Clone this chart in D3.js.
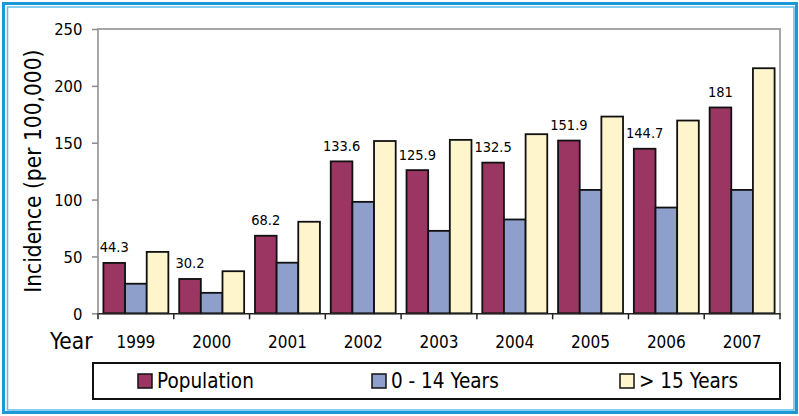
<!DOCTYPE html>
<html><head><meta charset="utf-8">
<script src="https://cdn.jsdelivr.net/npm/d3@7"></script>
<style>
body{margin:0;background:#fff;}
text{font-family:"DejaVu Sans Condensed","DejaVu Sans",sans-serif;font-stretch:condensed;fill:#000;}
</style></head><body>
<svg id="c" width="799" height="416"></svg>
<script>
const years = ["1999","2000","2001","2002","2003","2004","2005","2006","2007"];
const population = [44.3, 30.2, 68.2, 133.6, 125.9, 132.5, 151.9, 144.7, 181];
const age0to14 = [26, 18, 44.5, 98, 72.5, 82.5, 108.5, 93, 108.5];
const age15plus = [54, 37, 80.5, 151.5, 152.5, 157.5, 173, 169.5, 215.5];
const seriesNames = ["Population", "0 - 14 Years", "> 15 Years"];
const seriesColors = ["#9b3561", "#8f9fcc", "#fff5cc"];
const yTicks = [0, 50, 100, 150, 200, 250];

const svg = d3.select("#c");
// outer borders
svg.append("rect").attr("x",3.5).attr("y",3.5).attr("width",793).attr("height",409)
  .attr("fill","none").attr("stroke","#1b99d6").attr("stroke-width",3);
svg.append("rect").attr("x",7.5).attr("y",7).attr("width",786.5).attr("height",403)
  .attr("fill","none").attr("stroke","#5cbde9").attr("stroke-width",1.5);

const L=98, T=29, R=780, B=313.3;
const x0 = d3.scaleBand().domain(years).range([L,R]).paddingInner(0).paddingOuter(0);
const bw = x0.bandwidth()/3.5;
const x1 = d3.scaleBand().domain(seriesNames).range([bw*0.25, bw*3.25]);
const y = d3.scaleLinear().domain([0,250]).range([B,T]);

// plot border
svg.append("path").attr("d",`M${L},${B}V${T}H${R}V${B}`).attr("fill","none")
  .attr("stroke","#a6a6a6").attr("stroke-width",2);

// y axis
const ya = svg.append("g").attr("transform",`translate(${L},0)`)
  .call(d3.axisLeft(y).tickValues(yTicks).tickSize(6).tickPadding(9.5));
ya.select(".domain").remove();
ya.selectAll("line").attr("stroke","#8c8c8c").attr("stroke-width",1.5);
ya.selectAll("text").style("font-size","16.5px").attr("dy","0.36em");

// bars
const data = years.map((yr,i)=>({yr, vals:[population[i], age0to14[i], age15plus[i]]}));
const g = svg.selectAll("g.grp").data(data).join("g").attr("class","grp")
  .attr("transform",d=>`translate(${x0(d.yr)},0)`);
g.selectAll("rect").data(d=>d.vals.map((v,j)=>({v,j}))).join("rect")
  .attr("x",d=>x1(seriesNames[d.j])).attr("width",x1.bandwidth())
  .attr("y",d=>y(d.v)).attr("height",d=>B-y(d.v))
  .attr("fill",d=>seriesColors[d.j]).attr("stroke","#111").attr("stroke-width",1.8);
g.append("text").attr("x",x1(seriesNames[0])+x1.bandwidth()/2)
  .attr("y",(d)=>y(d.vals[0])-10.5).attr("text-anchor","middle")
  .style("font-size","14.5px").text(d=>d.vals[0]);

// x axis
const xa = svg.append("g").attr("transform",`translate(0,${B})`)
  .call(d3.axisBottom(x0).tickSize(0).tickPadding(0));
xa.select(".domain").attr("stroke","#222").attr("stroke-width",1.5);
xa.selectAll("text").attr("y",34.5).attr("dy",0).style("font-size","17px");
svg.append("g").selectAll("line").data(d3.range(years.length+1)).join("line")
  .attr("x1",i=>L+i*x0.bandwidth()).attr("x2",i=>L+i*x0.bandwidth())
  .attr("y1",B).attr("y2",B+6).attr("stroke","#222").attr("stroke-width",1.5);

svg.append("text").attr("x",50).attr("y",348.5).style("font-size","22.5px").text("Year");
svg.append("text").attr("transform",`translate(41,${(T+B)/2}) rotate(-90)`)
  .attr("text-anchor","middle").style("font-size","22.5px").text("Incidence (per 100,000)");

// legend
svg.append("rect").attr("x",93).attr("y",363).attr("width",687).attr("height",36)
  .attr("fill","#fff").attr("stroke","#111").attr("stroke-width",2);
const lx = [138, 372, 620];
const lg = svg.selectAll("g.leg").data(seriesNames).join("g").attr("class","leg")
  .attr("transform",(d,i)=>`translate(${lx[i]},374)`);
lg.append("rect").attr("width",14).attr("height",14)
  .attr("fill",(d,i)=>seriesColors[i]).attr("stroke","#111").attr("stroke-width",1.5);
lg.append("text").attr("x",19).attr("y",14.3).style("font-size","20.5px").text(d=>d);
</script></body></html>
